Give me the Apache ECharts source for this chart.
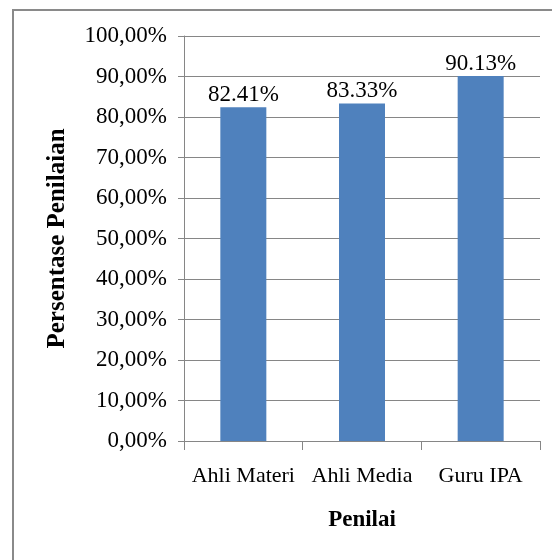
<!DOCTYPE html>
<html>
<head>
<meta charset="utf-8">
<script src="https://cdn.jsdelivr.net/npm/echarts@6/dist/echarts.min.js"></script>
<style>
html,body{margin:0;padding:0;background:#fff;}
#c{width:552px;height:560px;}
</style>
</head>
<body>
<div id="c"></div>
<script>
const categories = ['Ahli Materi', 'Ahli Media', 'Guru IPA'];
const values = [82.41, 83.33, 90.13];
const yTitle = 'Persentase Penilaian';
const xTitle = 'Penilai';

const FONT = '"Liberation Serif", "Times New Roman", serif';
const chart = echarts.init(document.getElementById('c'), null, {renderer: 'canvas'});
chart.setOption({
  animation: false,
  backgroundColor: '#fff',
  textStyle: {fontFamily: FONT, color: '#000'},
  graphic: [{
    type: 'rect', silent: true,
    shape: {x: 13, y: 10, width: 600, height: 600},
    style: {fill: 'none', stroke: '#8a8a8a', lineWidth: 2}
  }],
  grid: {left: 184, right: 12, top: 36, bottom: 119},
  xAxis: {
    type: 'category',
    data: categories,
    name: xTitle,
    nameLocation: 'middle',
    nameGap: 68,
    nameTextStyle: {fontFamily: FONT, fontSize: 23, fontWeight: 'bold', color: '#000'},
    axisLine: {lineStyle: {color: '#868686', width: 1}},
    axisTick: {show: true, alignWithLabel: false, length: 9, lineStyle: {color: '#868686'}},
    axisLabel: {fontFamily: FONT, fontSize: 22, color: '#000', margin: 24, interval: 0}
  },
  yAxis: {
    type: 'value',
    min: 0, max: 100, interval: 10,
    name: yTitle,
    nameLocation: 'middle',
    nameGap: 114,
    nameTextStyle: {fontFamily: FONT, fontSize: 25, fontWeight: 'bold', color: '#000', padding: [0, 0, 0, 0]},
    axisLine: {show: true, lineStyle: {color: '#868686', width: 1}},
    axisTick: {show: true, length: 6, lineStyle: {color: '#868686'}},
    splitLine: {show: true, lineStyle: {color: '#868686', width: 1}},
    axisLabel: {
      fontFamily: FONT, fontSize: 23, color: '#000', margin: 17,
      formatter: v => v.toFixed(2).replace('.', ',') + '%'
    }
  },
  series: [{
    type: 'bar',
    data: values,
    barWidth: 46,
    itemStyle: {color: '#4F81BD'},
    label: {
      show: true, position: 'top', distance: 1,
      fontFamily: FONT, fontSize: 23, color: '#000',
      formatter: p => p.value.toFixed(2) + '%'
    }
  }]
});
</script>
</body>
</html>
